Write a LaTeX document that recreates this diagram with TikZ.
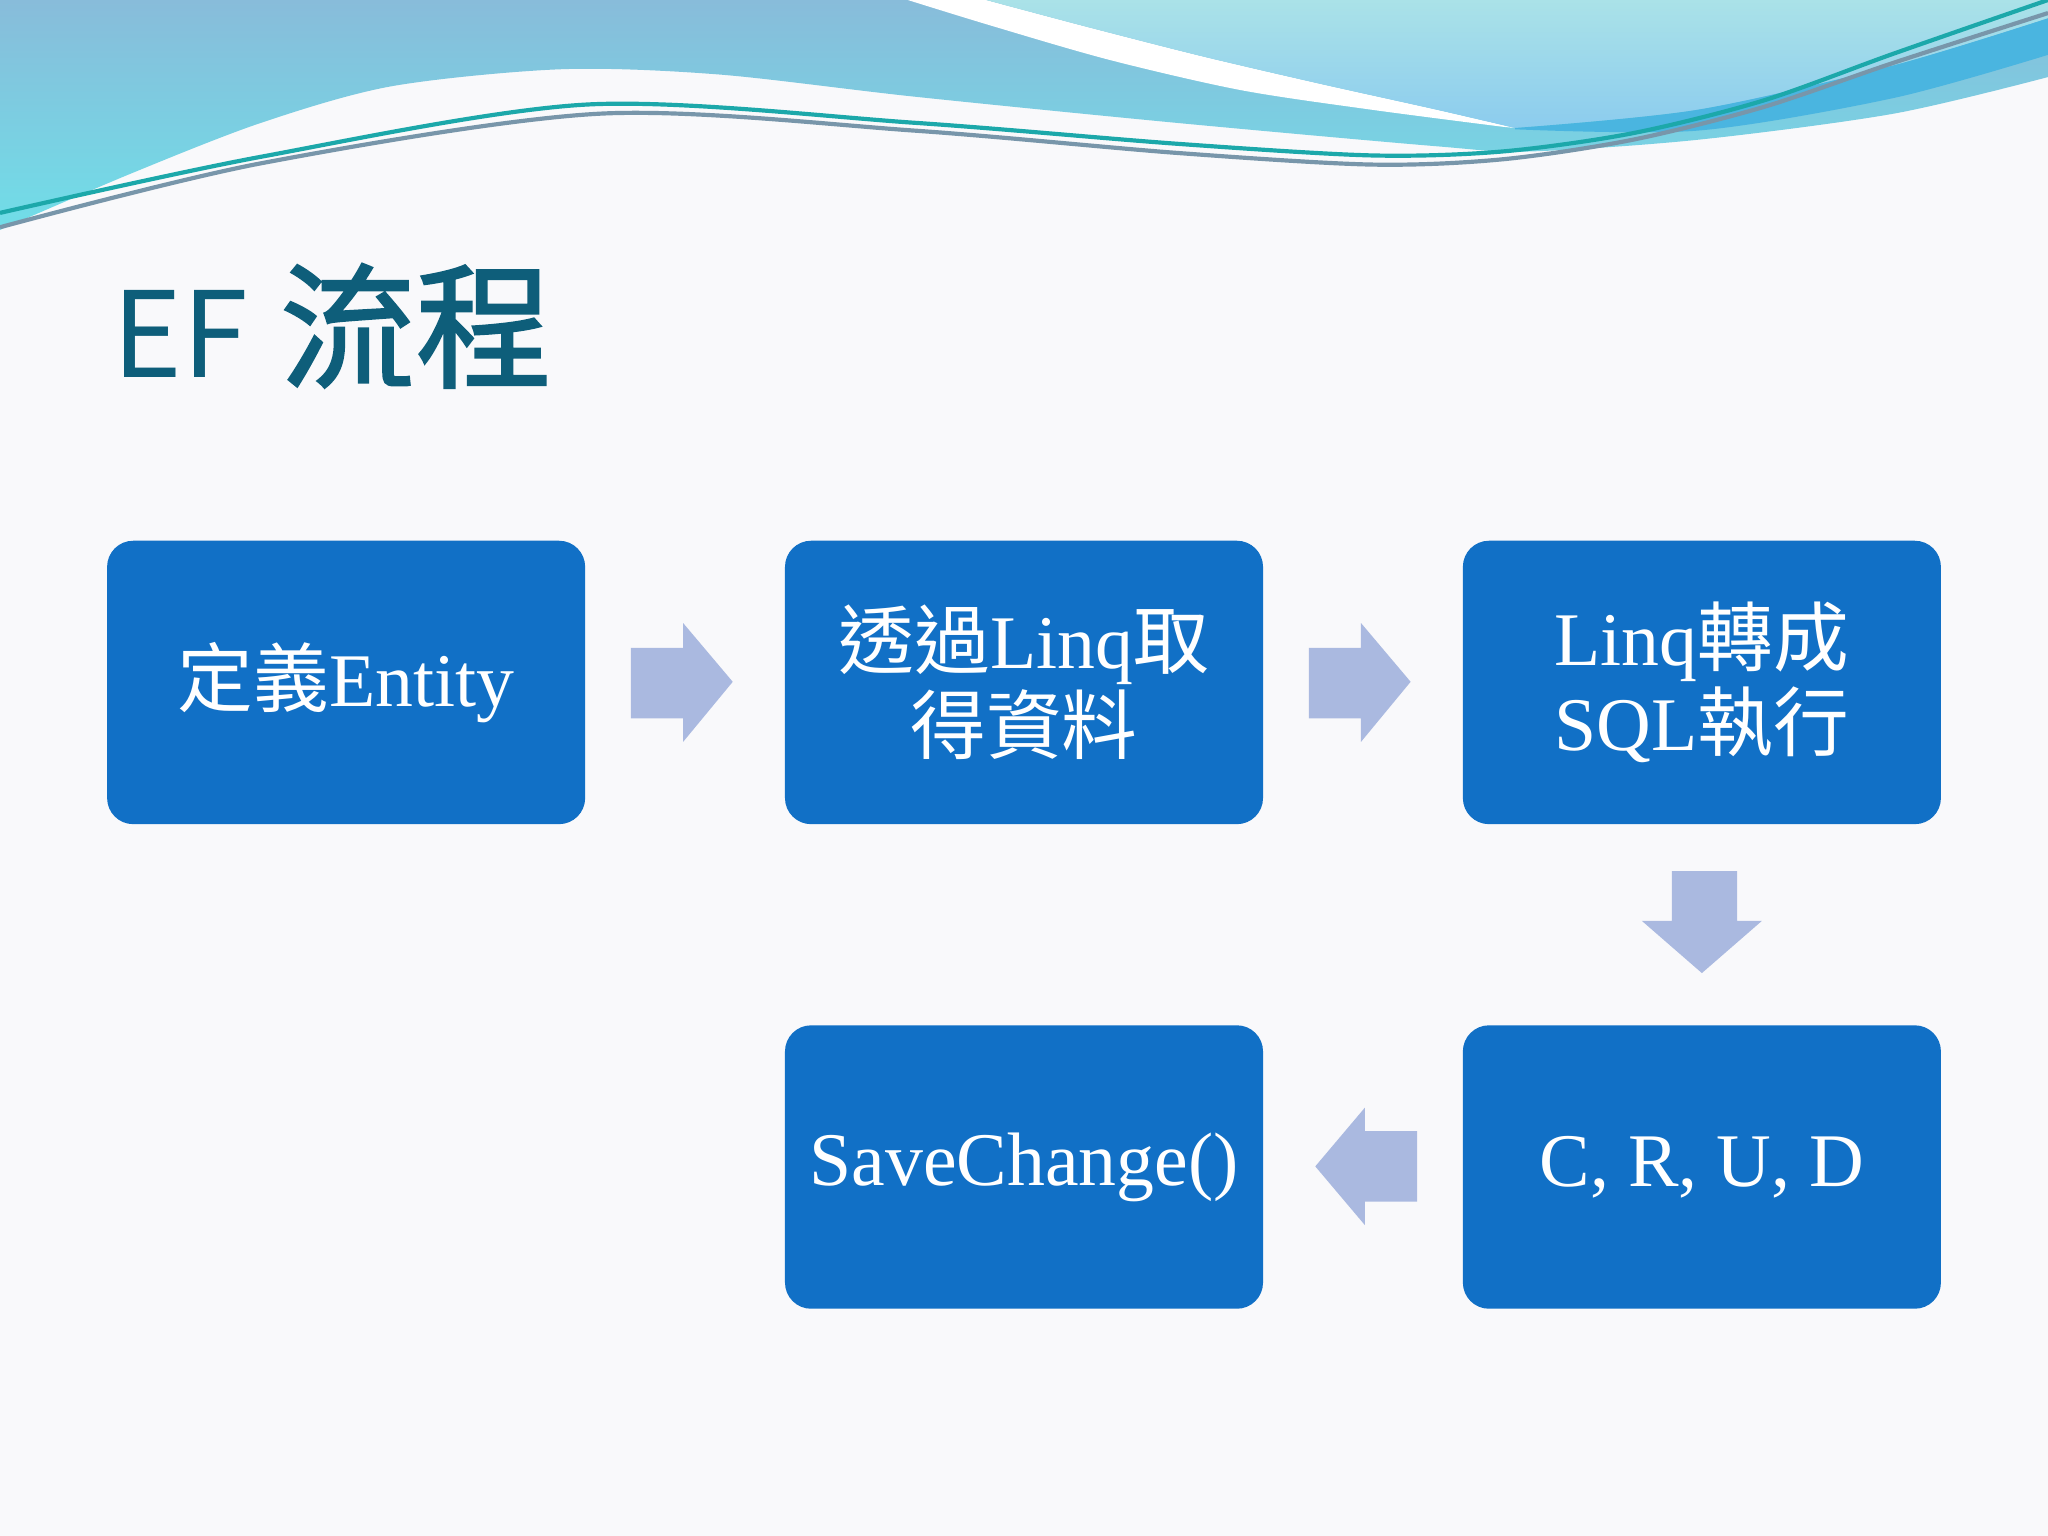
\documentclass[tikz,border=0pt]{standalone}
\usepackage{fontspec}
\setmainfont{Liberation Serif}
\newfontfamily\cjk{Noto Sans CJK TC}
\newfontfamily\cjkm[FakeBold=1.6]{Noto Sans CJK TC}
\definecolor{bgc}{RGB}{249,249,251}
\definecolor{boxblue}{RGB}{17,112,198}
\definecolor{arrowc}{RGB}{170,185,224}
\definecolor{titlec}{RGB}{14,94,122}
\definecolor{wavetop}{RGB}{136,188,218}
\definecolor{wavebot}{RGB}{112,222,232}
\definecolor{lighttop}{RGB}{170,226,232}
\definecolor{lightbot}{RGB}{140,204,238}
\definecolor{bandc}{RGB}{74,181,224}
\definecolor{lineteal}{RGB}{28,168,170}
\definecolor{linegray}{RGB}{120,150,170}
\tikzset{
  stepbox/.style={draw=none, fill=boxblue, rounded corners=10pt,
    minimum width=183pt, minimum height=108.5pt, inner sep=0pt,
    text=white, align=center, font=\fontsize{29}{32.5}\selectfont},
  blockarrow/.style={fill=arrowc, draw=none},
}
\begin{document}
\begin{tikzpicture}[x=0.5pt,y=-0.5pt]
\useasboundingbox (0,0) rectangle (1568,1176);
\fill[bgc] (0,0) rectangle (1568,1176);
% left wave
\shade[top color=wavetop, bottom color=wavebot]
  (0,0) -- (1568,0) -- plot[smooth] coordinates {(1568,59) (1450,87) (1300,107) (1170,116) (1100,112) (900,94) (700,74) (550,57) (430,53) (300,66) (200,94) (100,133) (0,176)} -- cycle;
% white crescent
\fill[white] plot[smooth] coordinates {(695,0) (760,20) (850,46) (950,69) (1050,84) (1150,97)}
  -- plot[smooth] coordinates {(1160,98) (1100,84) (1010,64) (920,43) (830,20) (755,0)} -- cycle;
% right light shape
\shade[top color=lighttop, bottom color=lightbot]
  plot[smooth] coordinates {(755,0) (830,20) (920,43) (1010,64) (1100,84) (1160,98)}
  -- plot[smooth] coordinates {(1160,98) (1300,84) (1450,50) (1568,14)} -- (1568,0) -- cycle;
% dark band
\fill[bandc] plot[smooth] coordinates {(1160,98) (1300,84) (1450,50) (1568,14)}
  -- (1568,42) -- plot[smooth] coordinates {(1568,42) (1450,75) (1300,100) (1160,99)} -- cycle;
% thin lines
\draw[lineteal, line width=1.6] plot[smooth] coordinates {(0,163) (200,120) (450,80) (700,94) (900,110) (1050,119) (1150,116) (1250,102) (1350,77) (1450,41) (1568,0)};
\draw[linegray, line width=1.6] plot[smooth] coordinates {(0,174) (200,125) (460,87) (700,100) (900,117) (1050,126) (1150,122) (1250,107) (1350,82) (1450,48) (1568,10)};
% title
\node[anchor=base west, inner sep=0pt, text=titlec, font=\cjk\fontsize{45.5}{50}\selectfont] (title) at (86,289) {EF\hspace{12pt}{\cjkm\fontsize{52}{56}\selectfont 流程}};
% boxes
\node[stepbox] (b1) at (265,522.5) {{\cjk 定義}Entity};
\node[stepbox] (b2) at (784,522.5) {{\cjk 透過}Linq{\cjk 取}\\{\cjk 得資料}};
\node[stepbox] (b3) at (1303,522.5) {Linq{\cjk 轉成}\\SQL{\cjk 執行}};
\node[stepbox] (b4) at (1303,893.5) {C, R, U, D};
\node[stepbox] (b5) at (784,893.5) {SaveChange()};
% block arrows
\fill[blockarrow] (483,496) -- (523,496) -- (523,477) -- (561,522) -- (523,568) -- (523,550) -- (483,550) -- cycle;
\fill[blockarrow] (1002,496) -- (1042,496) -- (1042,477) -- (1080,522) -- (1042,568) -- (1042,550) -- (1002,550) -- cycle;
\fill[blockarrow] (1280,667) -- (1330,667) -- (1330,705) -- (1349,705) -- (1303,745) -- (1257,705) -- (1280,705) -- cycle;
\fill[blockarrow] (1085,866) -- (1045,866) -- (1045,848) -- (1007,893) -- (1045,938) -- (1045,920) -- (1085,920) -- cycle;
\end{tikzpicture}
\end{document}
